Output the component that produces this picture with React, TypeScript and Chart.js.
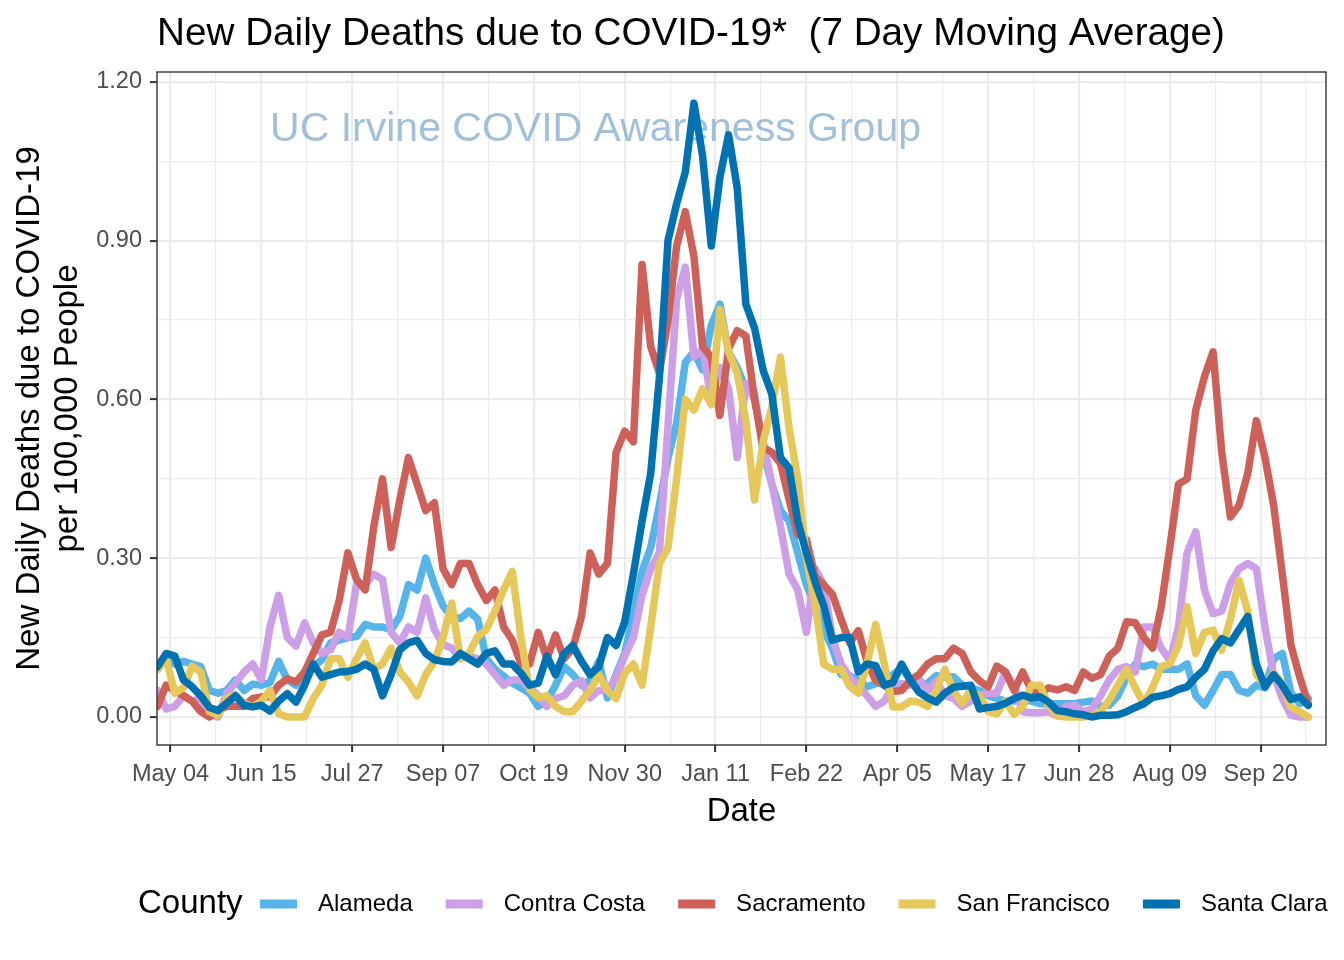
import React, { useEffect, useRef } from "react";
import { Chart, registerables } from "chart.js";

Chart.register(...registerables);

const FONT = "'Liberation Sans', Arial, Helvetica, sans-serif";

const chartTitle = "New Daily Deaths due to COVID-19*  (7 Day Moving Average)";
const yTitleLines = ["New Daily Deaths due to COVID-19", "per 100,000 People"];
const xTitle = "Date";
const legendTitle = "County";
const watermarkText = "UC Irvine COVID Awareness Group";
const watermarkAt = { day: 196.5, value: 1.11 };

// x values are days counted from 2020-05-04
const firstDay = -6;
const dayStep = 4;
const xMin = -6.24;
const xMax = 534.2;
const yMin = -0.053;
const yMax = 1.2188;

const xTickDays = [0, 42, 84, 126, 168, 210, 252, 294, 336, 378, 420, 462, 504];
const xTickLabels = ["May 04", "Jun 15", "Jul 27", "Sep 07", "Oct 19", "Nov 30", "Jan 11", "Feb 22", "Apr 05", "May 17", "Jun 28", "Aug 09", "Sep 20"];
const xMinorDays = [21, 63, 105, 147, 189, 231, 273, 315, 357, 399, 441, 483, 525];
const yTickValues = [0, 0.3, 0.6, 0.9, 1.2];
const yTickLabels = ["0.00", "0.30", "0.60", "0.90", "1.20"];
const yMinorValues = [0.15, 0.45, 0.75, 1.05];

const counties = ["Alameda", "Contra Costa", "Sacramento", "San Francisco", "Santa Clara"];
const countyColors = ["#56B4E9", "#CC9FE6", "#CD615A", "#E6C75A", "#0072B2"];

const alameda = [
  0.09, 0.11, 0.10, 0.105, 0.10, 0.095, 0.05, 0.045, 0.05, 0.07,
  0.05, 0.062, 0.06, 0.065, 0.105, 0.07, 0.06, 0.085, 0.095, 0.108,
  0.14, 0.145, 0.15, 0.152, 0.175, 0.17, 0.17, 0.165, 0.19, 0.25,
  0.24, 0.30, 0.25, 0.21, 0.19, 0.186, 0.20, 0.185, 0.11, 0.09,
  0.077, 0.064, 0.055, 0.045, 0.02, 0.03, 0.06, 0.095, 0.08, 0.06,
  0.07, 0.105, 0.036, 0.08, 0.12, 0.195, 0.275, 0.32, 0.40, 0.49,
  0.555, 0.67, 0.69, 0.656, 0.74, 0.78, 0.69, 0.66, 0.62, 0.61,
  0.50, 0.44, 0.39, 0.37, 0.31, 0.25, 0.21, 0.164, 0.13, 0.08,
  0.078, 0.069, 0.057, 0.063, 0.066, 0.08, 0.092, 0.07, 0.063, 0.063,
  0.078, 0.075, 0.076, 0.06, 0.055, 0.05, 0.04, 0.035, 0.03, 0.03,
  0.032, 0.03, 0.025, 0.025, 0.025, 0.025, 0.025, 0.028, 0.03, 0.02,
  0.022, 0.04, 0.075, 0.10, 0.095, 0.10, 0.09, 0.09, 0.09, 0.10,
  0.04, 0.022, 0.05, 0.08, 0.08, 0.05, 0.045, 0.06, 0.055, 0.11,
  0.12, 0.045, 0.025, 0.035,
];

const contraCosta = [
  0.05, 0.015, 0.02, 0.04, 0.03, 0.035, 0.005, 0.0, 0.045, 0.064,
  0.085, 0.10, 0.07, 0.17, 0.23, 0.15, 0.134, 0.178, 0.14, 0.12,
  0.127, 0.16, 0.15, 0.25, 0.25, 0.27, 0.26, 0.16, 0.14, 0.17,
  0.16, 0.225, 0.165, 0.137, 0.13, 0.11, 0.115, 0.11, 0.10, 0.08,
  0.06, 0.07, 0.07, 0.055, 0.04, 0.02, 0.035, 0.04, 0.06, 0.068,
  0.036, 0.05, 0.05, 0.075, 0.115, 0.15, 0.23, 0.28, 0.31, 0.55,
  0.79, 0.85, 0.68, 0.696, 0.60, 0.66, 0.62, 0.49, 0.63, 0.60,
  0.52, 0.44, 0.36, 0.27, 0.24, 0.16, 0.28, 0.25, 0.15, 0.10,
  0.075, 0.06, 0.04, 0.02, 0.03, 0.057, 0.063, 0.06, 0.072, 0.05,
  0.069, 0.04, 0.035, 0.02, 0.03, 0.04, 0.045, 0.045, 0.085, 0.06,
  0.01, 0.008, 0.008, 0.01, 0.002, 0.02, 0.022, 0.01, 0.015, 0.04,
  0.07, 0.09, 0.095, 0.085, 0.17, 0.17, 0.13, 0.107, 0.17, 0.31,
  0.35, 0.24, 0.195, 0.20, 0.252, 0.28, 0.29, 0.28, 0.17, 0.08,
  0.035, 0.003, 0.0, 0.0,
];

const sacramento = [
  0.02, 0.06, 0.05, 0.04, 0.03, 0.01, 0.0, 0.012, 0.02, 0.02,
  0.02, 0.035, 0.038, 0.038, 0.06, 0.072, 0.066, 0.085, 0.12, 0.155,
  0.16, 0.22, 0.31, 0.26, 0.24, 0.36, 0.45, 0.32, 0.41, 0.49,
  0.44, 0.39, 0.405, 0.28, 0.25, 0.29, 0.29, 0.25, 0.22, 0.24,
  0.17, 0.145, 0.10, 0.10, 0.16, 0.11, 0.155, 0.11, 0.13, 0.19,
  0.31, 0.27, 0.29, 0.50, 0.54, 0.52, 0.855, 0.70, 0.65, 0.75,
  0.89, 0.955, 0.87, 0.70, 0.68, 0.57, 0.696, 0.73, 0.72, 0.60,
  0.51, 0.50, 0.479, 0.41, 0.345, 0.335, 0.265, 0.25, 0.232, 0.185,
  0.14, 0.163, 0.105, 0.069, 0.06, 0.048, 0.05, 0.069, 0.08, 0.10,
  0.11, 0.11, 0.13, 0.12, 0.085, 0.068, 0.057, 0.096, 0.085, 0.05,
  0.085, 0.05, 0.045, 0.055, 0.051, 0.057, 0.05, 0.085, 0.073, 0.08,
  0.115, 0.13, 0.18, 0.178, 0.15, 0.13, 0.208, 0.32, 0.44, 0.45,
  0.58, 0.643, 0.69, 0.50, 0.378, 0.40, 0.46, 0.56, 0.49, 0.40,
  0.27, 0.135, 0.076, 0.025,
];

const sanFrancisco = [
  0.09, 0.11, 0.045, 0.055, 0.096, 0.085, 0.01, 0.003, 0.035, 0.042,
  0.026, 0.019, 0.03, 0.05, 0.006, 0.0, 0.0, 0.0, 0.035, 0.06,
  0.11, 0.11, 0.075, 0.11, 0.14, 0.09, 0.10, 0.13, 0.085, 0.066,
  0.04, 0.08, 0.105, 0.15, 0.215, 0.11, 0.12, 0.152, 0.165, 0.20,
  0.24, 0.275, 0.15, 0.052, 0.037, 0.04, 0.02, 0.01, 0.01, 0.03,
  0.05, 0.08, 0.05, 0.035, 0.083, 0.10, 0.06, 0.17, 0.29, 0.32,
  0.45, 0.60, 0.58, 0.62, 0.59, 0.77, 0.69, 0.65, 0.56, 0.41,
  0.52, 0.586, 0.68, 0.545, 0.45, 0.30, 0.215, 0.10, 0.09, 0.09,
  0.058, 0.045, 0.10, 0.175, 0.10, 0.019, 0.019, 0.03, 0.028, 0.02,
  0.05, 0.09, 0.05, 0.025, 0.05, 0.04, 0.01, 0.006, 0.03, 0.005,
  0.02, 0.06, 0.06, 0.02, 0.002, 0.0, 0.0, 0.0, 0.003, 0.01,
  0.032, 0.06, 0.09, 0.055, 0.025, 0.055, 0.095, 0.10, 0.135, 0.208,
  0.12, 0.16, 0.164, 0.126, 0.185, 0.258, 0.20, 0.08, 0.06, 0.082,
  0.063, 0.018, 0.01, 0.0,
];

const santaClara = [
  0.095, 0.12, 0.115, 0.07, 0.057, 0.04, 0.018, 0.012, 0.026, 0.04,
  0.022, 0.019, 0.022, 0.011, 0.03, 0.044, 0.028, 0.06, 0.10, 0.075,
  0.08, 0.085, 0.086, 0.09, 0.10, 0.09, 0.04, 0.08, 0.127, 0.14,
  0.145, 0.12, 0.108, 0.105, 0.104, 0.12, 0.11, 0.10, 0.12, 0.125,
  0.10, 0.10, 0.083, 0.06, 0.064, 0.115, 0.08, 0.12, 0.135, 0.105,
  0.08, 0.095, 0.15, 0.135, 0.18, 0.27, 0.37, 0.46, 0.64, 0.90,
  0.97, 1.03, 1.16, 1.06, 0.89, 1.02, 1.10, 1.00, 0.78, 0.735,
  0.655, 0.61, 0.49, 0.47, 0.37, 0.31, 0.255, 0.21, 0.145, 0.15,
  0.15, 0.085, 0.10, 0.097, 0.06, 0.065, 0.10, 0.07, 0.047, 0.036,
  0.028, 0.045, 0.056, 0.058, 0.06, 0.015, 0.018, 0.02, 0.026, 0.035,
  0.041, 0.036, 0.038, 0.028, 0.012, 0.01, 0.006, 0.004, 0.0, 0.003,
  0.003, 0.004, 0.01, 0.018, 0.025, 0.037, 0.04, 0.044, 0.052, 0.057,
  0.075, 0.09, 0.125, 0.148, 0.14, 0.165, 0.19, 0.10, 0.057, 0.08,
  0.06, 0.033, 0.038, 0.022,
];

const seriesValues = [alameda, contraCosta, sacramento, sanFrancisco, santaClara];

const decorPlugin = {
  id: "decor",
  beforeDraw(chart: any) {
    const ctx = chart.ctx;
    ctx.save();
    ctx.fillStyle = "#ffffff";
    ctx.fillRect(0, 0, chart.width, chart.height);
    ctx.restore();
  },
  beforeDatasetsDraw(chart: any) {
    const ctx = chart.ctx;
    const xs = chart.scales.x;
    const ys = chart.scales.y;
    ctx.save();
    ctx.font = `41px ${FONT}`;
    ctx.fillStyle = "rgba(70,130,180,0.5)";
    ctx.textAlign = "center";
    ctx.textBaseline = "middle";
    ctx.fillText(watermarkText, xs.getPixelForValue(watermarkAt.day), ys.getPixelForValue(watermarkAt.value));
    ctx.restore();
  },
  afterDatasetsDraw(chart: any) {
    const ctx = chart.ctx;
    const a = chart.chartArea;
    ctx.save();
    ctx.strokeStyle = "#333333";
    ctx.lineWidth = 1.4;
    ctx.strokeRect(a.left, a.top, a.right - a.left, a.bottom - a.top);
    ctx.restore();
  },
  afterDraw(chart: any) {
    const ctx = chart.ctx;
    const a = chart.chartArea;
    ctx.save();
    ctx.fillStyle = "#000000";
    // title
    ctx.font = `38.7px ${FONT}`;
    ctx.textAlign = "left";
    ctx.textBaseline = "alphabetic";
    ctx.fillText(chartTitle, a.left, 45);
    // x title
    ctx.font = `33px ${FONT}`;
    ctx.textAlign = "center";
    ctx.fillText(xTitle, (a.left + a.right) / 2, 821);
    // y title
    const cy = (a.top + a.bottom) / 2;
    ctx.textBaseline = "middle";
    const lineX = [30, 68];
    yTitleLines.forEach((line, i) => {
      ctx.save();
      ctx.translate(lineX[i], cy);
      ctx.rotate(-Math.PI / 2);
      ctx.fillText(line, 0, 0);
      ctx.restore();
    });
    // legend
    const ly = 904;
    ctx.textAlign = "left";
    ctx.textBaseline = "middle";
    ctx.font = `33px ${FONT}`;
    ctx.fillText(legendTitle, 138, ly);
    ctx.font = `24px ${FONT}`;
    let x = 260;
    counties.forEach((name, k) => {
      ctx.strokeStyle = countyColors[k];
      ctx.lineWidth = 9;
      ctx.lineCap = "butt";
      ctx.beginPath();
      ctx.moveTo(x, ly);
      ctx.lineTo(x + 37, ly);
      ctx.stroke();
      ctx.fillStyle = "#000000";
      ctx.fillText(name, x + 58, ly);
      x = x + 58 + ctx.measureText(name).width + 33;
    });
    ctx.restore();
  },
};

export default function App() {
  const ref = useRef<HTMLCanvasElement>(null);
  useEffect(() => {
    const canvas = ref.current;
    if (!canvas) return;
    const xs = alameda.map((_, i) => firstDay + i * dayStep);
    const datasets = counties.map((name, k) => ({
      label: name,
      data: seriesValues[k].map((v, i) => ({ x: xs[i], y: v })),
      borderColor: countyColors[k],
      backgroundColor: countyColors[k],
      borderWidth: 7.5,
      pointRadius: 0,
      tension: 0,
      fill: false,
      borderJoinStyle: "round" as const,
      borderCapStyle: "round" as const,
      order: counties.length - k,
      clip: 0,
    }));
    const xAll = [...xTickDays, ...xMinorDays].sort((p, q) => p - q);
    const yAll = [...yTickValues, ...yMinorValues].sort((p, q) => p - q);
    const isMajorX = (v: number) => xTickDays.indexOf(v) >= 0;
    const isMajorY = (v: number) => yTickValues.some((t) => Math.abs(t - v) < 1e-9);
    const chart = new Chart(canvas, {
      type: "line",
      data: { datasets },
      plugins: [decorPlugin],
      options: {
        responsive: false,
        animation: false,
        devicePixelRatio: 1,
        events: [],
        layout: { padding: { left: 0, top: 72, right: 18, bottom: 0 } },
        plugins: { legend: { display: false }, title: { display: false }, tooltip: { enabled: false } },
        elements: { line: { borderWidth: 7.5 } },
        scales: {
          x: {
            type: "linear",
            min: xMin,
            max: xMax,
            afterBuildTicks: (axis: any) => {
              axis.ticks = xAll.map((v) => ({ value: v }));
            },
            afterFit: (axis: any) => {
              axis.height = 215;
            },
            ticks: {
              autoSkip: false,
              maxRotation: 0,
              minRotation: 0,
              padding: 8,
              color: "#4D4D4D",
              font: { family: FONT, size: 23.5 },
              callback: (value: any) => {
                const i = xTickDays.indexOf(Number(value));
                return i >= 0 ? xTickLabels[i] : "";
              },
            },
            grid: {
              color: "#EBEBEB",
              lineWidth: (c: any) => (c.tick && isMajorX(c.tick.value) ? 2.2 : 1.2),
              drawTicks: true,
              tickLength: 7,
              tickWidth: 2,
              tickColor: (c: any) => (c.tick && isMajorX(c.tick.value) ? "#333333" : "rgba(0,0,0,0)"),
            },
            border: { display: false },
          },
          y: {
            type: "linear",
            min: yMin,
            max: yMax,
            afterBuildTicks: (axis: any) => {
              axis.ticks = yAll.map((v) => ({ value: v }));
            },
            afterFit: (axis: any) => {
              axis.width = 157;
            },
            ticks: {
              autoSkip: false,
              padding: 8,
              color: "#4D4D4D",
              font: { family: FONT, size: 23.5 },
              callback: (value: any) => {
                const i = yTickValues.findIndex((t) => Math.abs(t - Number(value)) < 1e-9);
                return i >= 0 ? yTickLabels[i] : "";
              },
            },
            grid: {
              color: "#EBEBEB",
              lineWidth: (c: any) => (c.tick && isMajorY(c.tick.value) ? 2.2 : 1.2),
              drawTicks: true,
              tickLength: 7,
              tickWidth: 2,
              tickColor: (c: any) => (c.tick && isMajorY(c.tick.value) ? "#333333" : "rgba(0,0,0,0)"),
            },
            border: { display: false },
          },
        },
      } as any,
    });
    return () => chart.destroy();
  }, []);
  return (
    <div style={{ position: "absolute", left: 0, top: 0, width: 1344, height: 960, background: "#ffffff" }}>
      <canvas ref={ref} width={1344} height={960} style={{ display: "block", width: 1344, height: 960 }} />
    </div>
  );
}
